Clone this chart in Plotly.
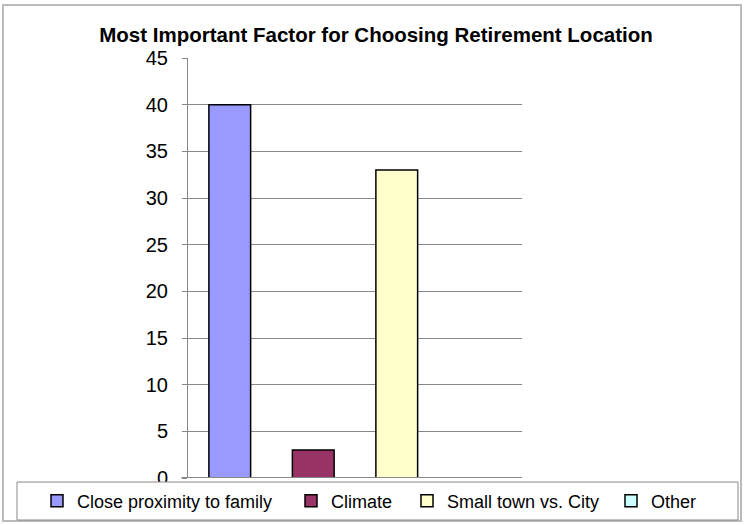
import plotly.graph_objects as go

# survey answers, one bar per factor
factors = ["Close proximity to family", "Climate", "Small town vs. City", "Other"]
counts = [40, 3, 33, 0]
colors = ["#9999FF", "#993366", "#FFFFCC", "#CCFFFF"]
y_ticks = [0, 5, 10, 15, 20, 25, 30, 35, 40, 45]

FONT = "Liberation Sans, Arial, sans-serif"

# pixel layout of the original (744x525)
L, R, T, B = 188, 522, 58, 478
def px_x(p):
    return (p - L) / (R - L)
def px_y(p):
    return (B - p) / (B - T)

fig = go.Figure()
legend_x = [37, 291, 407, 611]
for i, (name, val, col) in enumerate(zip(factors, counts, colors)):
    fig.add_trace(go.Bar(
        x=[i], y=[val], name=name, width=0.5,
        marker=dict(color=col, line=dict(color="black", width=1.5)),
        legend="legend" if i == 0 else "legend%d" % (i + 1),
    ))

# each legend entry gets its own legend so spacing matches the original
leg = dict(orientation="h", xanchor="left", yanchor="middle", y=px_y(501),
           bgcolor="rgba(0,0,0,0)", font=dict(family=FONT, size=18, color="black"))
legends = {}
for i, lx in enumerate(legend_x):
    key = "legend" if i == 0 else "legend%d" % (i + 1)
    legends[key] = dict(leg, x=px_x(lx))

fig.update_layout(
    width=744, height=525,
    margin=dict(l=L, r=744 - R, t=T, b=525 - B, autoexpand=False),
    paper_bgcolor="white", plot_bgcolor="white",
    barmode="overlay", showlegend=True,
    title=dict(text="<b>Most Important Factor for Choosing Retirement Location</b>",
               x=376 / 744, xanchor="center", y=1 - 35 / 525, yanchor="middle",
               font=dict(family=FONT, size=20.5, color="black")),
    xaxis=dict(range=[-0.5, 3.5], showticklabels=False, showgrid=False,
               showline=False, zeroline=False),
    yaxis=dict(range=[0, 45], tickvals=y_ticks, showgrid=True, gridcolor="#888888",
               gridwidth=1, showline=True, linecolor="#888888", linewidth=1,
               ticks="outside", ticklen=5, tickcolor="#888888", zeroline=False,
               ticklabelstandoff=10,
               tickfont=dict(family=FONT, size=20, color="black")),
    **legends,
)

# category axis line at 0, drawn over the bars so the empty "Other" bar shows nothing
fig.add_shape(type="line", xref="paper", yref="y", x0=-0.02, x1=1, y0=0, y1=0,
              line=dict(color="#888888", width=2), layer="above")
# outer chart frame
fig.add_shape(type="rect", xref="paper", yref="paper",
              x0=px_x(3), x1=px_x(741), y0=px_y(521), y1=px_y(5),
              line=dict(color="#BBBBBB", width=2), fillcolor="rgba(0,0,0,0)", layer="below")
# legend box sitting over the bottom of the plot
fig.add_shape(type="rect", xref="paper", yref="paper",
              x0=px_x(17), x1=px_x(738), y0=px_y(520), y1=px_y(482),
              line=dict(color="#888888", width=1), fillcolor="white", layer="above")

# drop the default body margin so the figure sits at the page corner
fig.write_html("out.html", config={"displayModeBar": False},
               post_script="document.body.style.margin='0';")
